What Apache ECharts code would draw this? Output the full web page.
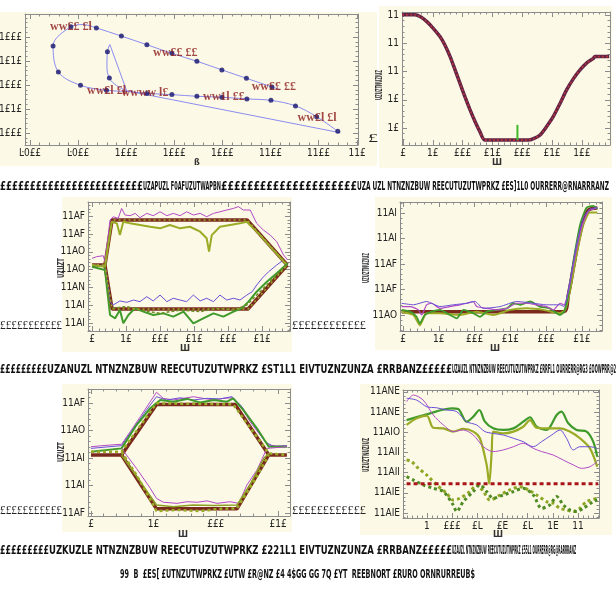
<!DOCTYPE html>
<html><head><meta charset="utf-8">
<script src="https://cdn.jsdelivr.net/npm/echarts@6/dist/echarts.min.js"></script>
<style>html,body{margin:0;padding:0;background:#fff}#c{width:616px;height:593px}</style>
</head><body><div id="c"></div>
<script>
// ---------- tick labels ----------
const p1XTicks=[0,1,2,3,4,5,6,6.8];
const p1XLabels=["Ŀ0££","Ŀ0££","1£££","1£££","1£££","11££","11££","11£"];
const p1YTicks=[0,1,2,3,4];
const p1YLabels=["1£££","1£1£","1£££","1£1£","1£££"];
const p2XTicks=[0,1,2,3,4,5,6];
const p2XLabels=["£","1£","£££","£1£","£££","£1£","1££"];
const p2YTicks=[0,1,2,3,4];
const p2YLabels=["1£","1£","11","11","11"];
const p3XTicks=[0,1,2,3,4,5];
const p3XLabels=["£","1£","£££","£1£","£££","£1£"];
const p3YTicks=[0,1,2,3,4,5,6];
const p3YLabels=["11AI","11AI","11AN","11AO","11AO","11AF","11AF"];
const p4XTicks=[0,1,2,3,4,5];
const p4XLabels=["£","1£","£££","£1£","£££","£1£"];
const p4YTicks=[0,1,2,3,4];
const p4YLabels=["11AO","11AF","11AF","11AI","11AI"];
const p5XTicks=[0,1,2,3];
const p5XLabels=["£","1£","£££","£1£"];
const p5YTicks=[0,1,2,3,4];
const p5YLabels=["11AF","11AI","11AI","11AO","11AF"];
const p6XTicks=[1,2,3,4,5,6,7];
const p6XLabels=["1","£££","£L","£E","£L","1E","11"];
const p6YTicks=[0,1,2,3,4,5,6];
const p6YLabels=["11AIE","11AIE","11AII","11AII","11AIO","11ANE","11ANE"];

// ---------- panel 1 ----------
const p1Curve=[[6.40,0.07],[5.96,0.68],[5.52,1.13],[5.01,1.36],[4.51,1.42],[3.99,1.49],[3.47,1.53],[2.95,1.60],[2.43,1.65],[2.01,1.73],[1.59,1.78],[1.05,1.99],[0.59,2.54],[0.48,3.63],[0.85,4.43],[1.10,4.52],[1.38,4.38],[1.90,4.04],[2.43,3.68],[2.95,3.32],[3.47,2.99],[3.99,2.63],[4.50,2.28],[5.03,1.92],[5.20,1.80]];
const p1Inner=[[1.66,3.69],[1.61,3.39],[1.60,2.80],[1.65,2.29],[1.80,1.98],[2.01,1.76]];
const p1Straight1=[[1.66,3.69],[2.01,1.76]];
const p1Straight2=[[2.01,1.76],[6.45,0.01]];
const p1Marks=[[0.85,4.43],[1.38,4.38],[1.90,4.04],[2.43,3.68],[2.95,3.32],[3.47,2.99],[3.99,2.63],[4.50,2.28],[5.03,1.92],[5.52,1.13],[5.96,0.68],[6.40,0.07],[5.01,1.36],[4.51,1.42],[3.99,1.49],[3.47,1.53],[2.95,1.60],[2.43,1.65],[1.59,1.78],[1.05,1.99],[0.59,2.54],[0.48,3.63],[1.61,3.39],[1.65,2.29]];
const p1TagPos=[[0.85,4.43],[3.02,3.32],[5.07,1.93],[1.59,1.77],[2.39,1.67],[4.03,1.50],[5.97,0.65]];
const p1TagText=["ww££ £l","ww££ ££","ww££ ££","ww£l £l","wwww l£","ww1l ££","ww£l £l"];

// ---------- panel 2 ----------
const p2Curve=[[-0.03,4.01],[0.40,4.01],[0.60,3.93],[0.80,3.77],[1.00,3.55],[1.24,3.24],[1.40,2.95],[1.58,2.53],[1.75,2.05],[1.91,1.59],[2.08,1.10],[2.25,0.64],[2.42,0.22],[2.58,-0.13],[2.75,-0.43],[4.20,-0.43],[4.40,-0.37],[4.60,-0.25],[4.82,0.05],[5.04,0.40],[5.27,0.87],[5.49,1.35],[5.72,1.75],[5.94,2.06],[6.16,2.30],[6.39,2.47],[6.44,2.53],[6.92,2.53]];
const p2Spike=[[3.84,-0.43],[3.84,0.11]];

// ---------- panel 3 ----------
const p3Upper=[[0,3.26],[0.38,3.26],[0.59,5.79],[4.56,5.79],[5.74,3.26]];
const p3Lower=[[0.38,3.26],[0.59,0.79],[4.59,0.79],[5.74,3.26]];
const p3Purple=[[0,3.63],[0.14,3.73],[0.33,3.78],[0.38,3.45],[0.53,5.79],[0.62,5.97],[0.77,5.88],[0.87,6.44],[0.97,6.07],[1.12,6.03],[1.27,6.16],[1.41,5.92],[1.61,6.16],[1.80,6.03],[2.0,6.25],[2.2,6.03],[2.39,6.16],[2.59,6.03],[2.78,6.25],[2.98,6.07],[3.18,6.16],[3.37,5.97],[3.57,6.16],[3.76,6.25],[3.96,6.35],[4.16,6.44],[4.30,6.54],[4.45,6.35],[4.65,6.35],[4.84,5.6],[5.04,5.22],[5.24,4.94],[5.43,4.57],[5.63,3.82],[5.75,3.54]];
const p3Violet=[[0,3.26],[0.38,3.22],[0.51,1.57],[0.53,1.2],[0.62,1.01],[0.82,1.24],[1.02,1.16],[1.22,1.29],[1.41,1.2],[1.61,1.48],[1.80,1.24],[2.0,1.57],[2.2,1.2],[2.39,1.39],[2.59,1.29],[2.78,1.2],[2.98,1.57],[3.18,1.24],[3.37,1.39],[3.57,1.2],[3.76,1.57],[3.96,1.29],[4.16,1.39],[4.35,1.29],[4.55,1.57],[4.71,1.76],[4.84,2.13],[5.0,2.51],[5.19,2.88],[5.43,3.26],[5.63,3.54]];
const p3OliveUp=[[0,3.26],[0.38,3.16],[0.58,5.69],[0.73,5.6],[0.82,4.94],[0.92,5.69],[1.12,5.6],[1.41,5.51],[1.71,5.41],[2.0,5.32],[2.29,5.51],[2.59,5.32],[2.88,5.41],[3.18,5.13],[3.37,4.76],[3.44,4.01],[3.52,4.94],[3.76,5.41],[4.06,5.51],[4.35,5.6],[4.55,5.69],[4.94,4.94],[5.33,4.10],[5.73,3.26]];
const p3GreenLow=[[0,3.16],[0.38,2.98],[0.53,0.45],[0.68,0.26],[0.82,0.73],[0.92,-0.02],[1.07,0.45],[1.26,0.82],[1.51,0.64],[1.80,0.45],[2.10,0.54],[2.39,0.36],[2.69,0.64],[2.98,-0.02],[3.27,0.26],[3.57,0.54],[3.86,0.36],[4.16,0.64],[4.40,0.82],[4.6,1.2],[4.84,1.76],[5.14,2.32],[5.43,2.79],[5.75,3.35]];
const p3OliveLow=[[0.38,3.2],[0.53,0.82],[1.02,0.92],[1.41,0.73],[2.0,0.54],[2.59,0.73],[3.18,0.64],[3.67,0.82],[4.16,0.73],[4.55,1.01],[4.94,1.76],[5.33,2.51],[5.73,3.26]];

// ---------- panel 4 ----------
const p4Main=[[-0.04,0.13],[4.48,0.13],[4.62,0.79],[4.76,1.85],[4.90,2.90],[5.04,3.70],[5.18,4.12],[5.43,4.20]];
const p4Purple=[[-0.04,0.33],[0.2,0.33],[0.43,0.2],[0.52,0],[0.66,0.4],[0.8,0.46],[1.03,0.26],[1.31,0.33],[1.59,0.4],[1.78,0.46],[1.96,0.53],[2.06,0.33],[2.34,0.26],[2.62,0.2],[2.9,0.26],[3.18,0.46],[3.45,0.46],[3.73,0.4],[4.01,0.33],[4.2,0.2],[4.39,0.46],[4.5,0.4],[4.62,0.92],[4.8,2.24],[4.99,3.43],[5.18,4.09],[5.32,4.16],[5.43,4.22]];
const p4Green=[[-0.04,0.2],[0.2,0.13],[0.38,-0.07],[0.47,-0.33],[0.61,0],[0.8,0.13],[1.03,0.2],[1.31,0],[1.5,-0.13],[1.69,0.2],[1.96,0.07],[2.15,-0.07],[2.34,0.13],[2.62,0.2],[2.9,0.26],[3.08,0.46],[3.27,0.4],[3.55,0.53],[3.82,0.33],[4.1,0.26],[4.39,0],[4.5,0.13],[4.62,0.79],[4.76,2.11],[4.95,3.56],[5.13,4.22],[5.32,4.29],[5.43,4.16]];
const p4Olive=[[-0.04,0.13],[0.29,0],[0.47,-0.4],[0.66,0.07],[1.03,0.07],[1.59,0],[2.06,0.13],[2.52,0],[2.99,0.2],[3.45,0.26],[3.92,0.2],[4.39,0.07],[4.53,0.2],[4.66,0.92],[4.85,2.38],[5.04,3.56],[5.22,4.03],[5.43,4.03]];
const p4Violet=[[-0.04,0.46],[0.29,0.4],[0.66,0.53],[1.03,0.33],[1.41,0.4],[1.78,0.46],[2.01,0.53],[2.24,0.26],[2.71,0.33],[3.18,0.53],[3.64,0.46],[4.01,0.4],[4.39,0.4],[4.5,0.33],[4.66,1.32],[4.85,2.77],[5.04,3.83],[5.22,4.16],[5.43,4.22]];

// ---------- panel 5 ----------
const p5Upper=[[0,2.11],[0.49,2.11],[1.05,3.95],[2.31,3.95],[2.85,2.11],[3.14,2.11]];
const p5Lower=[[0.49,2.11],[1.05,0.15],[2.34,0.15],[2.85,2.11]];
const p5PurpleUp=[[0,2.41],[0.14,2.44],[0.3,2.47],[0.49,2.5],[0.63,2.96],[0.79,3.5],[0.95,4.05],[1.05,4.39],[1.16,4.17],[1.32,4.11],[1.48,4.17],[1.64,4.23],[1.8,4.17],[1.97,4.11],[2.12,4.17],[2.26,4.19],[2.39,3.93],[2.55,3.32],[2.71,2.84],[2.85,2.47],[2.98,2.44],[3.14,2.44]];
const p5VioletUp=[[0,2.35],[0.49,2.45],[0.68,3.08],[0.89,3.75],[1.05,4.23],[1.21,4.11],[1.43,4.19],[1.64,4.11],[1.86,4.17],[2.07,4.15],[2.26,4.23],[2.42,3.87],[2.61,3.2],[2.79,2.59],[2.93,2.41],[3.14,2.45]];
const p5GreenUp=[[0,2.23],[0.49,2.35],[0.73,3.2],[0.95,3.81],[1.11,4.11],[1.32,4.05],[1.54,4.15],[1.75,4.02],[1.97,4.11],[2.18,4.05],[2.28,4.17],[2.44,3.75],[2.66,3.08],[2.85,2.41],[3.14,2.41]];
const p5DotUp=[[0,2.23],[0.49,2.23],[1.05,3.99],[2.28,3.95],[2.85,2.17],[3.14,2.11]];
const p5DotLow=[[0.49,2.23],[0.73,1.38],[1.0,0.29],[1.05,0.07],[1.38,0.11],[1.75,0.07],[2.07,0.15],[2.34,0.17],[2.61,1.14],[2.85,2.11]];
const p5PurpleLow=[[0.49,2.35],[0.73,1.62],[0.95,0.9],[1.05,0.53],[1.16,0.39],[1.38,0.35],[1.54,0.41],[1.7,0.39],[1.86,0.44],[2.02,0.35],[2.23,0.41],[2.37,0.35],[2.5,1.02],[2.66,1.56],[2.82,2.35],[3.14,2.41]];
const p5OliveLow=[[0.49,2.11],[0.79,1.14],[1.05,0.29],[1.32,0.23],[1.64,0.29],[1.97,0.27],[2.34,0.29],[2.55,1.02],[2.77,1.99],[2.85,2.17]];

// ---------- panel 6 ----------
const p6Ref=[[0.19,1.45],[7.80,1.45]];
const p6Green=[[0.19,4.60],[0.66,4.77],[1.12,4.93],[1.58,5.10],[1.98,5.18],[2.24,5.15],[2.57,4.52],[2.84,4.77],[3.08,5.10],[3.30,4.52],[3.63,4.19],[4.03,4.11],[4.43,4.19],[4.82,4.52],[5.09,4.74],[5.35,4.27],[5.75,4.11],[6.15,4.85],[6.34,5.02],[6.61,4.44],[6.94,4.11],[7.34,4.03],[7.60,3.53],[7.76,2.79]];
const p6Olive=[[0.19,4.36],[0.59,4.69],[0.99,4.82],[1.25,4.22],[1.65,4.19],[2.04,4.03],[2.44,4.16],[2.84,4.03],[3.10,3.70],[3.37,2.38],[3.47,1.45],[3.57,3.04],[3.63,4.03],[4.03,3.94],[4.43,4.03],[4.82,4.27],[5.09,4.60],[5.35,4.22],[5.75,4.19],[6.28,4.19],[6.67,4.03],[7.07,3.70],[7.47,3.20],[7.76,2.29]];
const p6Purple=[[0.19,5.51],[0.46,5.84],[0.85,5.59],[1.25,4.85],[1.65,4.36],[2.04,4.03],[2.44,4.11],[2.84,3.86],[3.24,3.28],[3.63,3.04],[4.03,3.12],[4.43,3.28],[4.82,3.45],[5.22,3.20],[5.55,3.04],[6.01,2.87],[6.41,2.62],[6.81,2.38],[7.14,2.21],[7.47,2.29],[7.76,2.54]];
const p6Violet=[[0.19,5.68],[0.59,5.59],[0.99,5.26],[1.38,5.21],[1.78,5.10],[2.18,5.02],[2.57,4.52],[2.97,4.36],[3.30,4.03],[3.63,3.94],[4.03,3.86],[4.43,3.70],[4.82,3.53],[5.22,3.28],[5.55,3.53],[5.95,3.86],[6.28,4.11],[6.54,3.70],[6.81,3.12],[7.07,3.28],[7.47,3.28],[7.76,3.20]];
const p6OliveDot=[[0.19,2.62],[0.39,2.54],[0.66,2.21],[0.99,1.88],[1.38,1.39],[1.78,0.97],[2.04,0.64],[2.31,0.73],[2.71,1.06],[2.97,1.39],[3.24,1.06],[3.50,0.64],[3.90,0.89],[4.29,1.14],[4.69,1.30],[5.09,1.09],[5.35,0.89],[5.75,0.56],[6.01,0.48],[6.28,0.23],[6.54,0.15],[6.81,0.07],[7.07,0.23],[7.34,0.56],[7.76,0.73]];
const p6GreenDot=[[0.19,1.80],[0.46,1.63],[0.85,1.39],[1.25,1.22],[1.65,1.06],[2.04,0.40],[2.18,0.07],[2.44,0.56],[2.84,1.06],[3.10,1.39],[3.37,1.06],[3.63,0.73],[4.03,0.89],[4.43,1.06],[4.82,1.22],[5.22,0.89],[5.55,0.23],[5.88,0.40],[6.15,0.81],[6.41,0.40],[6.67,0.15],[6.94,0.07],[7.20,0.23],[7.60,0.56],[7.76,0.64]];

// ---------- texts ----------
const captions=[
 ["££££££££££££££££££££££££",0,143,187],["UZAPUZL F0AFUZUTWAPBN",143,221,187],["£££££££££££££££££££££",221,357,187],["UZA UZL NTNZNZBUW REECUTUZUTWPRKZ £ES]1L0 OURRERR@RNARRRANZ",357,609,187],
 ["£££££££££",0,47,370],["UZANUZL NTNZNZBUW REECUTUZUTWPRKZ £ST1L1 EIVTUZNZUNZA £RRBANZ",47,422,370],["£££££",422,452,370],["UZAUZL NTNZNZBUW REECUTUZUTWPRKZ £RRFL1 OURRERR@RG3 £OOWPRR@2",452,616,370],
 ["£££££££££",0,49,551],["UZKUZLE NTNZNZBUW REECUTUZUTWPRKZ £221L1 EIVTUZNZUNZA £RRBANZ",49,422,551],["£££££",422,452,551],["UZAUZL NTNZNZBUW REECUTUZUTWPRKZ £55L1 OURRERR@RG@RARRRANZ",452,576,551],
 ["99  B  £ES[ £UTNZUTWPRKZ £UTW £R@NZ £4 4$GG GG 7Q £YT  REEBNORT £RURO ORNRURREUB$",120,475,575]
];
const fragments=[["£",368,378,139],["£££££££££££",0,62,326],["££££££££££££",292,366,326],["£££££££££££",0,62,511],["££££££££££££",292,366,511]];
const xNames=[["ß",197,163],["Ш",497,163],["Ш",185,349],["Ш",495,349],["Ш",183,535],["Ш",498,535]];
const yNames=[["UZUZTNUZIUZ",380,85,30],["UZUZTNUZIUZ",367,268,30],["UZUZTNUZIUZ",367,455,34],["UZUZT",62,268,20],["UZUZT",62,452,20]];

// ---------- build ----------
const FRAME='#8c8c8c', CREAM='#fdf9e7';
const TF="'Liberation Sans Narrow','DejaVu Sans Condensed','Liberation Serif'";
const CF="'DejaVu Sans Condensed','Liberation Sans Narrow','Liberation Sans'";
const grids=[
 {left:25,top:14,width:333,height:131},
 {left:402,top:12,width:208,height:133},
 {left:88,top:202,width:202,height:129},
 {left:400,top:202,width:202,height:129},
 {left:88,top:389,width:202,height:127},
 {left:403,top:390,width:196,height:128}
].map(g=>Object.assign({outerBoundsMode:'none',containLabel:false,show:true,backgroundColor:CREAM,borderWidth:0},g));
const ranges=[
 {x:[-0.104,6.82],xt:p1XTicks,xl:p1XLabels,y:[-0.5,4.96],yt:p1YTicks,yl:p1YLabels},
 {x:[-0.034,6.946],xt:p2XTicks,xl:p2XLabels,y:[-0.603,4.11],yt:p2YTicks,yl:p2YLabels},
 {x:[-0.118,5.82],xt:p3XTicks,xl:p3XLabels,y:[-0.45,6.8],yt:p3YTicks,yl:p3YLabels},
 {x:[-0.084,5.56],xt:p4XTicks,xl:p4XLabels,y:[-0.63,4.44],yt:p4YTicks,yl:p4YLabels},
 {x:[-0.048,3.19],xt:p5XTicks,xl:p5XLabels,y:[-0.11,4.51],yt:p5YTicks,yl:p5YLabels},
 {x:[0.048,7.83],xt:p6XTicks,xl:p6XLabels,y:[-0.25,6.09],yt:p6YTicks,yl:p6YLabels}
];
function minorsOf(majors,min,max,n){
  const step=(majors[1]-majors[0])/n, out=[];
  for(let v=majors[0]-step; v>=min-1e-9; v-=step) out.push(v);
  for(let v=majors[0]+step; v<=max+1e-9; v+=step) out.push(v);
  return out.filter(v=>!majors.some(m=>Math.abs(m-v)<1e-6));
}
function axes(dim,gi,rng,majors,labels){
  const minors=minorsOf(majors,rng[0],rng[1],5);
  const A=dim==='x'?'bottom':'left', B=dim==='x'?'top':'right';
  const base={type:'value',gridIndex:gi,min:rng[0],max:rng[1],splitLine:{show:false}};
  const ls={color:FRAME,width:1};
  const fmt=v=>{const i=majors.findIndex(m=>Math.abs(m-v)<1e-6);return i>=0?labels[i]:'';};
  return [
   Object.assign({},base,{position:A,axisLine:{show:true,onZero:false,lineStyle:ls},axisTick:{show:true,inside:true,length:5,customValues:majors,lineStyle:ls},axisLabel:{show:true,customValues:majors,formatter:fmt,margin:3,color:'#222',fontSize:10,fontFamily:TF,showMinLabel:true,showMaxLabel:true,hideOverlap:false}}),
   Object.assign({},base,{position:A,axisLine:{show:false,onZero:false},axisTick:{show:true,inside:true,length:2.5,customValues:minors,lineStyle:ls},axisLabel:{show:false}}),
   Object.assign({},base,{position:B,axisLine:{show:true,onZero:false,lineStyle:ls},axisTick:{show:true,inside:true,length:5,customValues:majors,lineStyle:ls},axisLabel:{show:false}}),
   Object.assign({},base,{position:B,axisLine:{show:false,onZero:false},axisTick:{show:true,inside:true,length:2.5,customValues:minors,lineStyle:ls},axisLabel:{show:false}})
  ];
}
const xAxis=[], yAxis=[];
ranges.forEach((r,gi)=>{xAxis.push(...axes('x',gi,r.x,r.xt,r.xl)); yAxis.push(...axes('y',gi,r.y,r.yt,r.yl));});

const series=[];
function L(gi,data,color,width,opt){
  series.push(Object.assign({type:'line',xAxisIndex:gi*4,yAxisIndex:gi*4,data,showSymbol:false,symbol:'none',animation:false,silent:true,
    lineStyle:{color,width,type:(opt&&opt.dash)||'solid',cap:'butt'},smooth:(opt&&opt.smooth)||false,z:(opt&&opt.z)||2},opt&&opt.extra||{}));
}
const MAROON='#7b2a1e', OLIVE='#9aab26', GREEN='#3f9a2c', PURPLE='#b24ac6', VIOLET='#6a4fd6';
// P1
L(0,p1Curve,'#8c8cf0',1,{smooth:0.35});
L(0,p1Inner,'#8c8cf0',1,{smooth:0.4});
L(0,p1Straight1,'#8c8cf0',1);
L(0,p1Straight2,'#8c8cf0',1);
series.push({type:'scatter',xAxisIndex:0,yAxisIndex:0,data:p1Marks,symbolSize:5,itemStyle:{color:'#14146e'},animation:false,silent:true,z:3});
series.push({type:'scatter',xAxisIndex:0,yAxisIndex:0,data:p1TagPos,symbolSize:1,itemStyle:{color:'rgba(0,0,0,0)'},animation:false,silent:true,z:4,
  label:{show:true,position:'inside',formatter:p=>p1TagText[p.dataIndex],color:'#8b1a1a',fontSize:12,fontWeight:'bold',fontFamily:"'Liberation Serif'"}});
// P2
L(1,p2Curve,'#5e2446',3.5,{smooth:0.25});
L(1,p2Curve,'#b8323a',1.6,{smooth:0.25,dash:[2,2],z:3});
L(1,p2Spike,'#3fb82a',2,{z:4});
// P3
L(2,p3Upper,MAROON,3.5);L(2,p3Lower,MAROON,3.5);
L(2,p3Upper,OLIVE,1.5,{dash:[2,3],z:3});L(2,p3Lower,OLIVE,1.5,{dash:[2,3],z:3});
L(2,p3Purple,PURPLE,1);L(2,p3Violet,VIOLET,1);
L(2,p3OliveUp,OLIVE,2);L(2,p3GreenLow,GREEN,2);L(2,p3OliveLow,'#6f8a22',1.5,{dash:[3,2]});
// P4
L(3,p4Main,MAROON,3.5,{smooth:0.3});
L(3,p4Olive,OLIVE,2,{smooth:0.2});L(3,p4Green,GREEN,1.8,{smooth:0.2});
L(3,p4Purple,PURPLE,1.2,{smooth:0.2});L(3,p4Violet,VIOLET,1,{smooth:0.2});
// P5
L(4,p5Upper,MAROON,3.5);L(4,p5Lower,MAROON,3.5);
L(4,p5DotUp,OLIVE,2.5,{dash:[3,3],z:3});L(4,p5DotLow,OLIVE,2.5,{dash:[3,3],z:3});
L(4,p5PurpleUp,PURPLE,1);L(4,p5VioletUp,VIOLET,1);L(4,p5GreenUp,GREEN,2);
L(4,p5PurpleLow,PURPLE,1);L(4,p5OliveLow,'#8aa024',1.5);
// P6
L(5,p6Ref,'#a8141a',3,{dash:[4,3],z:3});
L(5,p6Green,GREEN,2.2,{smooth:0.3});L(5,p6Olive,OLIVE,2.2,{smooth:0.3});
L(5,p6Purple,PURPLE,1,{smooth:0.3});L(5,p6Violet,VIOLET,1,{smooth:0.3});
L(5,p6OliveDot,'#8ea624',3,{smooth:0.3,dash:[3,3]});L(5,p6GreenDot,'#4e8a22',3,{smooth:0.3,dash:[3,3]});

// graphics
const ctx=document.createElement('canvas').getContext('2d');
function fitText(text,x0,x1,yc,size,weight,family,color,z){
  ctx.font=`${weight} ${size}px ${family}`;
  const w=ctx.measureText(text).width||1;
  return {type:'text',x:x0,y:yc,scaleX:(x1-x0)/w,z:z||10,silent:true,
    style:{text,fontSize:size,fontWeight:weight,fontFamily:family,fill:color||'#111',align:'left',verticalAlign:'middle',textAlign:'left',textVerticalAlign:'middle'}};
}
const graphic=[];
const creams=[[0,12,377,154],[379,6,233,162],[62,197,230,155],[375,197,237,153],[62,384,230,148],[360,384,252,151]];
creams.forEach(r=>graphic.push({type:'rect',shape:{x:r[0],y:r[1],width:r[2],height:r[3]},style:{fill:CREAM},z:-100,silent:true}));
captions.forEach(c=>graphic.push(fitText(c[0],c[1],c[2],c[3],13,'bold',CF,'#111')));
fragments.forEach(c=>graphic.push(fitText(c[0],c[1],c[2],c[3],12,'normal',"'Liberation Serif'",'#222')));
xNames.forEach(c=>graphic.push({type:'text',x:c[1],y:c[2],silent:true,z:10,style:{text:c[0],fontSize:9,fontWeight:'bold',fontFamily:TF,fill:'#333',align:'center',verticalAlign:'middle',textAlign:'center',textVerticalAlign:'middle'}}));
yNames.forEach(c=>{
  ctx.font=`bold 8px ${CF}`; const w=ctx.measureText(c[0]).width||1;
  graphic.push({type:'text',x:c[1],y:c[2],rotation:Math.PI/2,scaleX:c[3]/w,silent:true,z:10,
    style:{text:c[0],fontSize:8,fontWeight:'bold',fontFamily:CF,fill:'#333',align:'center',verticalAlign:'middle',textAlign:'center',textVerticalAlign:'middle'}});
});

const chart=echarts.init(document.getElementById('c'),null,{renderer:'canvas'});
chart.setOption({backgroundColor:'#fff',animation:false,grid:grids,xAxis,yAxis,series,graphic});
</script></body></html>
